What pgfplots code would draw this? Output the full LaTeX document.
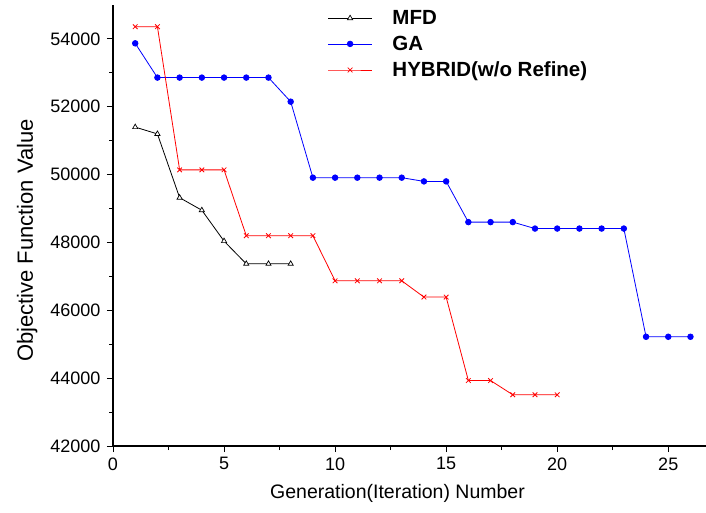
\documentclass[border=0pt]{standalone}
\usepackage{fontspec}
\setmainfont{Liberation Sans}
\usepackage{pgfplots}
\pgfplotsset{compat=1.18}

\begin{document}
\begin{tikzpicture}
\useasboundingbox (0,0) rectangle (706pt,512pt);
\begin{axis}[
        at={(113pt,66pt)}, anchor=south west,
        scale only axis,
        width=593pt, height=441pt,
        xmin=0, xmax=26.7,
        ymin=42000, ymax=55000,
        axis lines=left,
        axis line style={-, line width=1.3pt},
        tick align=outside,
        major tick length=6pt,
        minor tick length=4pt,
        tick style={line width=1pt, black},
        xtick={0,5,...,25},
        ytick={42000,44000,...,54000},
        minor x tick num=1,
        minor y tick num=1,
        scaled y ticks=false,
        /pgf/number format/1000 sep={},
        /pgf/number format/assume math mode=true,
        tick label style={font=\fontsize{18}{20}\selectfont},
        xticklabel style={yshift=-2pt},
        yticklabel style={xshift=-3pt},
        xlabel={Generation(Iteration) Number},
        ylabel={Objective Function Value},
        xlabel style={font=\fontsize{19.5}{22}\selectfont, yshift=-7pt, xshift=-12pt},
        ylabel style={font=\fontsize{22}{24}\selectfont, yshift=6pt, xshift=-15pt},
        legend style={draw=none, fill=none, at={(0.36,0.995)}, anchor=north west,
                font=\bfseries\fontsize{20.5}{23}\selectfont,
                row sep=6pt, inner sep=1pt,
                /tikz/every odd column/.append style={column sep=18pt}},
        legend cell align=left,
        legend image code/.code={
                \draw[mark repeat=2, mark phase=2, #1]
                plot coordinates {(0pt,0pt) (22pt,0pt) (44pt,0pt)};
        },
    ]
\addplot [black, line width=0.8pt, mark=triangle*, mark size=3pt,
          mark options={fill=white, line width=0.7pt}]
    coordinates {(1,51400) (2,51200) (3,49320) (4,48950) (5,48040)
                 (6,47370) (7,47370) (8,47370)};
\addplot [blue, line width=0.8pt, mark=*, mark size=2.8pt]
    coordinates {(1,53870) (2,52860) (3,52860) (4,52860) (5,52860) (6,52860)
                 (7,52860) (8,52150) (9,49910) (10,49910) (11,49910) (12,49910)
                 (13,49910) (14,49800) (15,49800) (16,48600) (17,48600) (18,48600)
                 (19,48410) (20,48410) (21,48410) (22,48410) (23,48410)
                 (24,45220) (25,45220) (26,45220)};
\addplot [red, line width=0.8pt, mark=x, mark size=3.3pt]
    coordinates {(1,54360) (2,54360) (3,50140) (4,50140) (5,50140)
                 (6,48200) (7,48200) (8,48200) (9,48200)
                 (10,46870) (11,46870) (12,46870) (13,46870)
                 (14,46390) (15,46390) (16,43930) (17,43930)
                 (18,43510) (19,43510) (20,43510)};
\legend{MFD, GA, HYBRID(w/o Refine)}
\end{axis}
\end{tikzpicture}
\end{document}
